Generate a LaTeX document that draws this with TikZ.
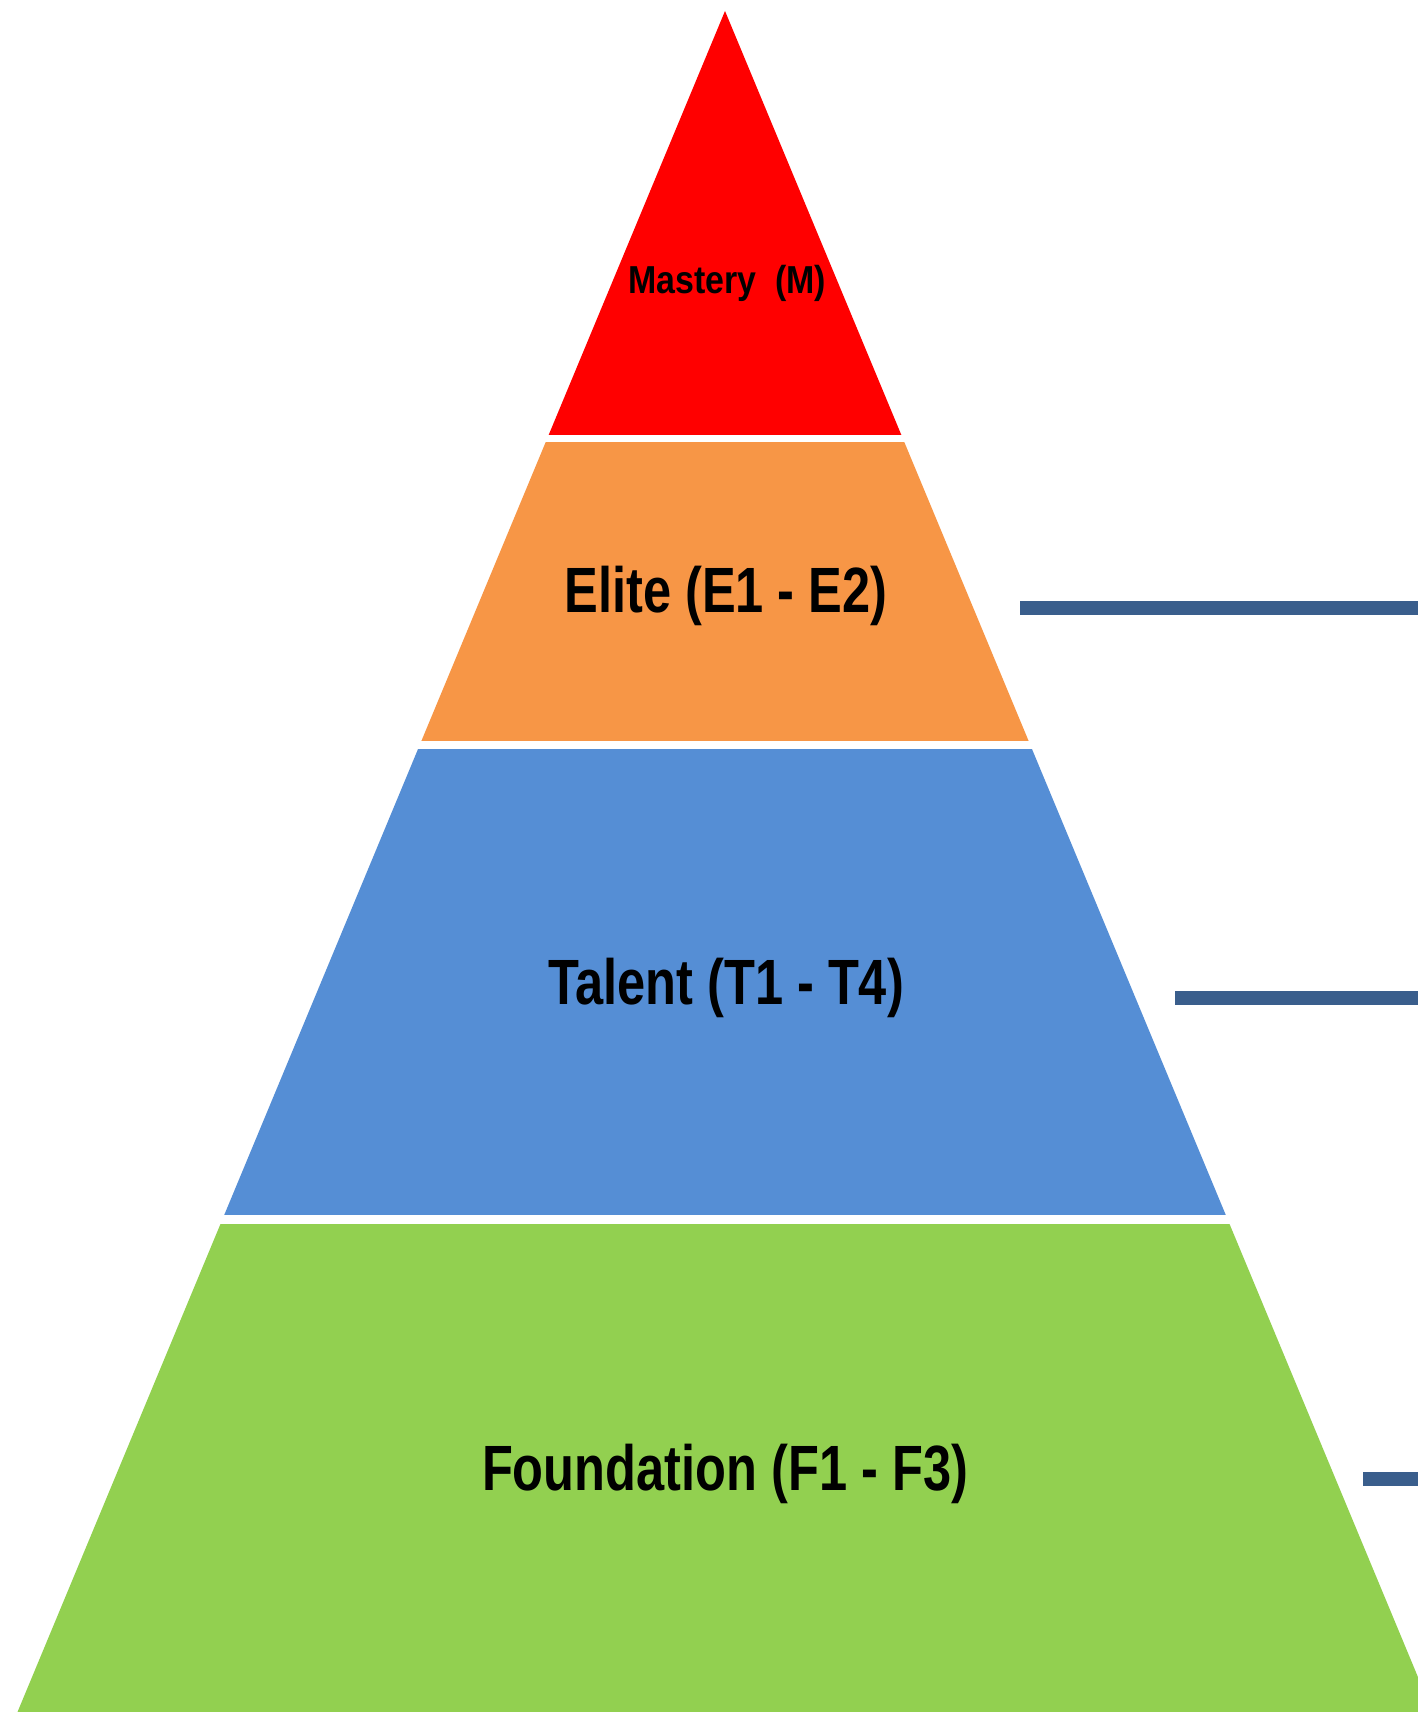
\documentclass[tikz,border=0pt]{standalone}
\usepackage{fontspec}
\setmainfont{Liberation Sans}
\newfontfamily\labelfont[FakeStretch=0.79]{Liberation Sans}
\newfontfamily\toplabelfont[FakeStretch=0.87]{Liberation Sans}
\definecolor{mred}{HTML}{FF0000}
\definecolor{morange}{HTML}{F79646}
\definecolor{mblue}{HTML}{558ED5}
\definecolor{mgreen}{HTML}{92D050}
\definecolor{mline}{HTML}{3A5E8C}
\begin{document}
\begin{tikzpicture}[x=0.5pt,y=-0.5pt,
  tierlabel/.style={anchor=base,inner sep=0pt,font=\labelfont\bfseries\fontsize{32}{38}\selectfont},
  toplabel/.style={anchor=base,inner sep=0pt,font=\toplabelfont\bfseries\fontsize{19.5}{23}\selectfont},
  connector/.style={draw=mline,line width=7pt}]
\useasboundingbox (0,0) rectangle (1418,1712);
\fill[white] (0,0) rectangle (1418,1712);
\begin{scope}
  \clip (725,11) -- (1432.5,1712) -- (17.5,1712) -- cycle;
  \fill[mred]    (0,0)    rectangle (1418,434.5);
  \fill[morange] (0,442)  rectangle (1418,741);
  \fill[mblue]   (0,749)  rectangle (1418,1215);
  \fill[mgreen]  (0,1224) rectangle (1418,1712);
\end{scope}
\node[toplabel]  (mastery)    at (727,293)  {Mastery\ \ (M)};
\node[tierlabel] (elite)      at (726,612.5) {Elite (E1 - E2)};
\node[tierlabel] (talent)     at (726,1004) {Talent (T1 - T4)};
\node[tierlabel] (foundation) at (725,1490) {Foundation (F1 - F3)};
\coordinate (l1a) at (1020,608);
\coordinate (l1b) at (1418,608);
\coordinate (l2a) at (1175,998);
\coordinate (l2b) at (1418,998);
\coordinate (l3a) at (1363,1479);
\coordinate (l3b) at (1418,1479);
\draw[connector] (l1a) -- (l1b);
\draw[connector] (l2a) -- (l2b);
\draw[connector] (l3a) -- (l3b);
\end{tikzpicture}
\end{document}
